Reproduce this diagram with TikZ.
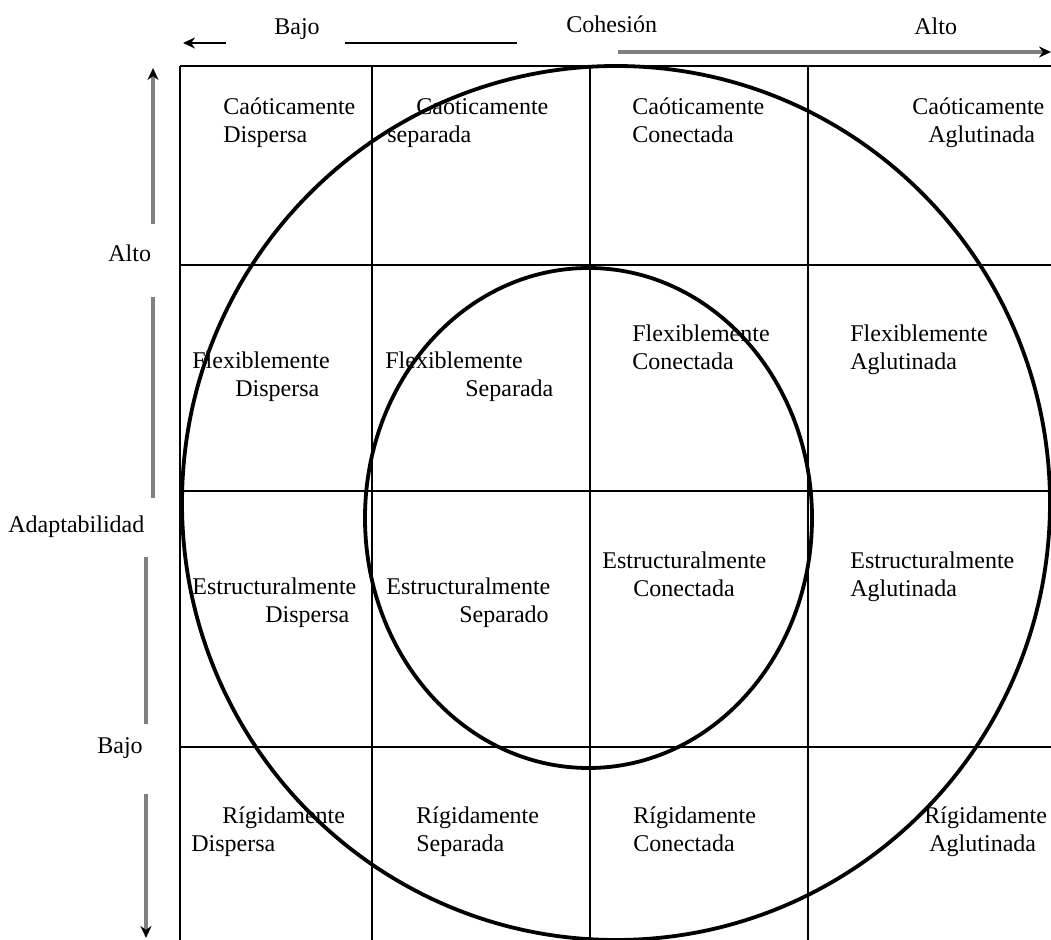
\documentclass[tikz,border=0pt]{standalone}
\usepackage{fontspec}
\setmainfont{Liberation Serif}
\usetikzlibrary{arrows.meta}

\begin{document}
\begin{tikzpicture}[x=0.5pt, y=-0.5pt,
    cell/.style={anchor=base west, inner sep=0pt, align=left, font=\fontsize{12}{14.2}\selectfont},
    axislabel/.style={anchor=base west, inner sep=0pt, font=\fontsize{12}{14.2}\selectfont},
    gridline/.style={line width=0.65pt},
    ring/.style={line width=1.9pt},
    axisline/.style={line width=1.6pt, gray},
    tip/.style={-{Stealth[length=6pt, width=5.5pt, color=black]}}]
    \useasboundingbox (0,0) rectangle (1051,940);

    % Grid
    \foreach \x in {180, 372, 590, 808}
        \draw[gridline] (\x,66) -- (\x,940);
    \foreach \y in {66, 265, 491, 747}
        \draw[gridline] (180,\y) -- (1051,\y);

    % Circles
    \draw[ring] (616,503) ellipse [x radius=217pt, y radius=218.5pt];
    \draw[ring] (588.5,518) ellipse [x radius=111.75pt, y radius=125pt];

    % Nodes
    \node (cd) [cell] at (223,143) {Caóticamente\\Dispersa};
    \node (cs) [cell] at (387,143) {\hspace*{14.5pt}Caóticamente\\separada};
    \node (cc) [cell] at (632,143) {Caóticamente\\Conectada};
    \node (ca) [cell] at (912,143) {Caóticamente\\\hspace*{8pt}Aglutinada};

    \node (fd) [cell] at (192,397) {Flexiblemente\\\hspace*{21.5pt}Dispersa};
    \node (fs) [cell] at (385,397) {Flexiblemente\\\hspace*{40pt}Separada};
    \node (fc) [cell] at (632,370) {Flexiblemente\\Conectada};
    \node (fa) [cell] at (850,370) {Flexiblemente\\Aglutinada};

    \node (ed) [cell] at (192,623) {Estructuralmente\\\hspace*{36.5pt}Dispersa};
    \node (es) [cell] at (386,623) {Estructuralmente\\\hspace*{36.5pt}Separado};
    \node (ec) [cell] at (602,597) {Estructuralmente\\\hspace*{15.5pt}Conectada};
    \node (ea) [cell] at (850,597) {Estructuralmente\\Aglutinada};

    \node (rd) [cell] at (191,852) {\hspace*{15.5pt}Rígidamente\\Dispersa};
    \node (rs) [cell] at (416,852) {Rígidamente\\Separada};
    \node (rc) [cell] at (633,852) {Rígidamente\\Conectada};
    \node (ra) [cell] at (924,852) {Rígidamente\\\hspace*{2.5pt}Aglutinada};

    % Axis labels
    \node (cbajo) [axislabel] at (274,35) {Bajo};
    \node (cohesion) [axislabel] at (566,33) {Cohesión};
    \node (calto) [axislabel] at (914,35) {Alto};
    \node (aalto) [axislabel] at (108,262) {Alto};
    \node (adapt) [axislabel] at (8,533) {Adaptabilidad};
    \node (abajo) [axislabel] at (97,754) {Bajo};

    % Arrows
    \draw[line width=1.2pt, tip] (226,43) -- (183,43);
    \draw[line width=1.2pt] (345,43) -- (517,43);
    \draw[axisline, tip] (618,52) -- (1051,52);
    \draw[axisline, tip] (153,224) -- (153,68);
    \draw[axisline] (153,297) -- (153,498);
    \draw[axisline] (146,557) -- (146,724);
    \draw[axisline, tip] (146,794) -- (146,938);
\end{tikzpicture}
\end{document}
